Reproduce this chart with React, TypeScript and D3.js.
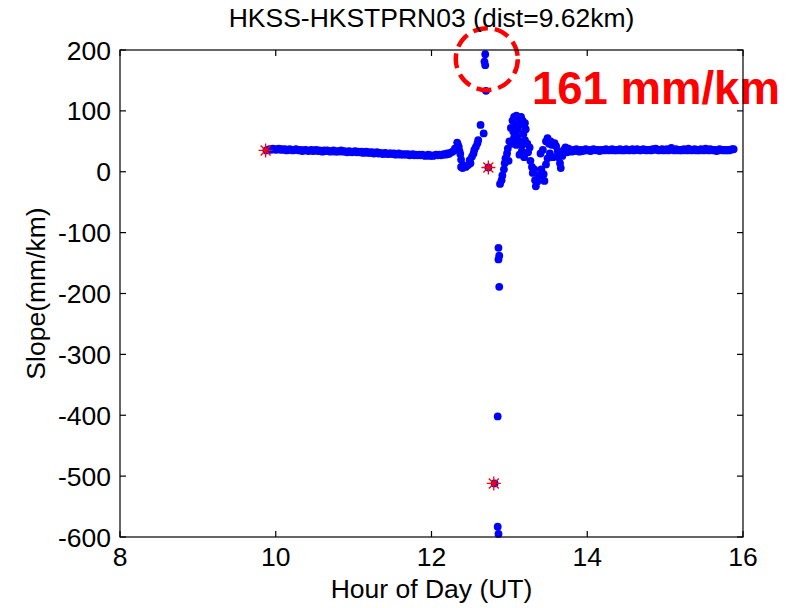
import React from 'react';
import * as d3 from 'd3';

// axis ticks
const xTicks = [8, 10, 12, 14, 16];
const yTicks = [200, 100, 0, -100, -200, -300, -400, -500, -600];

// steady band, sampled every 0.02 h
const step = 0.02;
const leftStart = 9.88;
const leftBand = [
  35, 36, 37, 36, 38, 37, 36, 37, 38, 36,
  37, 36, 37, 35, 36, 37, 36, 35, 36, 37,
  36, 35, 36, 34, 35, 36, 35, 34, 35, 36,
  34, 35, 36, 34, 35, 34, 33, 35, 34, 35,
  34, 33, 34, 35, 33, 34, 33, 34, 35, 33,
  34, 33, 32, 34, 33, 32, 33, 34, 32, 33,
  32, 33, 31, 32, 33, 31, 32, 31, 32, 30,
  31, 32, 30, 31, 30, 29, 31, 30, 29, 30,
  30, 29, 30, 28, 29, 30, 28, 29, 28, 29,
  28, 29, 27, 28, 29, 27, 28, 27, 28, 27,
  28, 27, 26, 27, 28, 26, 27, 26, 27, 28,
  27, 28, 27, 28, 29, 28, 30, 29,
];
const rightStart = 13.8;
const rightBand = [
  33, 36, 34, 37, 35, 33, 36, 34, 35, 37,
  35, 36, 34, 35, 37, 36, 35, 36, 34, 36,
  36, 35, 37, 36, 35, 36, 37, 35, 36, 35,
  36, 37, 35, 36, 35, 37, 36, 35, 36, 37,
  35, 36, 37, 36, 35, 36, 37, 36, 35, 36,
  36, 35, 37, 36, 38, 36, 35, 36, 37, 35,
  36, 37, 35, 36, 39, 36, 35, 37, 36, 35,
  36, 35, 37, 36, 35, 38, 36, 35, 36, 37,
  35, 36, 35, 37, 36, 35, 38, 36, 35, 37,
  36, 35, 36, 34, 35, 37, 36, 35, 36, 35,
  36, 35, 36, 37, 37,
];

// disturbed period [hour, slope]
const burst: [number, number][] = [
  // before the jump
  [12.24, 31], [12.27, 33], [12.3, 38], [12.33, 48], [12.34, 44], [12.35, 41],
  [12.36, 34], [12.37, 29], [12.38, 20], [12.38, 8], [12.4, 6], [12.41, 11],
  [12.44, 8], [12.47, 11], [12.49, 19], [12.5, 14], [12.52, 25], [12.54, 30],
  [12.55, 36], [12.57, 41], [12.59, 47], [12.6, 52], [12.63, 77], [12.67, 63],
  [12.73, 7],
  // rising limb
  [12.88, -20], [12.9, -14], [12.91, -6], [12.93, 4], [12.94, 14],
  [12.95, 22], [12.97, 30], [12.98, 38], [12.99, 18],
  // upper cluster
  [13.02, 72], [13.04, 84], [13.06, 90], [13.09, 92], [13.12, 88], [13.15, 90],
  [13.17, 84], [13.2, 80], [13.21, 70], [13.05, 66], [13.08, 76], [13.11, 70],
  [13.14, 78], [13.18, 62], [13.1, 58], [13.06, 56], [13.0, 50], [13.03, 46],
  [13.13, 50], [13.16, 44], [13.2, 52], [13.23, 46], [13.26, 40], [13.09, 44],
  // falling limb
  [13.16, 34], [13.13, 28], [13.19, 24], [13.24, 32], [13.27, 18], [13.29, 8],
  [13.3, -2], [13.32, 4], [13.33, -14], [13.34, -24], [13.36, -16],
  [13.38, -6], [13.41, 4], [13.44, -4], [13.45, -15], [13.47, 12], [13.49, 22],
  // second hump
  [13.47, 50], [13.49, 55], [13.51, 46], [13.53, 50], [13.55, 44],
  [13.58, 47], [13.6, 42], [13.62, 34], [13.63, 24], [13.65, 14],
  [13.66, 6], [13.68, 26], [13.7, 36], [13.72, 40], [13.74, 32], [13.76, 38],
  [13.78, 34], [13.4, 30], [13.43, 36], [13.52, 30], [13.56, 24],
];

// outliers
const spikes: [number, number][] = [
  [12.69, 193], [12.68, 181], [12.69, 175], [12.7, 133],
  [12.86, -125], [12.87, -138], [12.86, -144], [12.87, -189],
  [12.85, -402], [12.81, -512], [12.85, -583], [12.86, -595],
];

// red star markers
const stars: [number, number][] = [[9.87, 35], [12.73, 7], [12.8, -512]];

const W = 793;
const H = 608;
const margin = { top: 50, right: 50, bottom: 71, left: 120 };
const font = '"Liberation Sans", Arial, sans-serif';

const App: React.FC = () => {
  const svgRef = React.useRef<SVGSVGElement>(null);

  React.useEffect(() => {
    if (!svgRef.current) return;
    const svg = d3.select(svgRef.current);
    svg.selectAll('*').remove();

    const x = d3.scaleLinear().domain([8, 16]).range([margin.left, W - margin.right]);
    const y = d3.scaleLinear().domain([-600, 200]).range([H - margin.bottom, margin.top]);

    const points: [number, number][] = [
      ...leftBand.map((v, i) => [leftStart + i * step, v] as [number, number]),
      ...rightBand.map((v, i) => [rightStart + i * step, v] as [number, number]),
      ...burst,
      ...spikes,
    ];

    svg.append('rect').attr('width', W).attr('height', H).attr('fill', '#fff');

    // dots
    svg.append('g')
      .selectAll('circle')
      .data(points)
      .join('circle')
      .attr('cx', d => x(d[0]))
      .attr('cy', d => y(d[1]))
      .attr('r', 3.9)
      .attr('fill', '#0000ff');

    // stars
    const s = svg.append('g').attr('stroke', '#ff0000').attr('stroke-width', 1.3);
    stars.forEach(([hx, v]) => {
      const cx = x(hx), cy = y(v);
      s.append('path').attr('d',
        `M${cx - 7},${cy}H${cx + 7}M${cx},${cy - 7}V${cy + 7}` +
        `M${cx - 5},${cy - 5}L${cx + 5},${cy + 5}M${cx - 5},${cy + 5}L${cx + 5},${cy - 5}`);
    });

    // annotation
    svg.append('circle')
      .attr('cx', x(12.71))
      .attr('cy', y(185))
      .attr('r', 31)
      .attr('fill', 'none')
      .attr('stroke', '#ff0000')
      .attr('stroke-width', 4.5)
      .attr('stroke-dasharray', '15 7');

    svg.append('text')
      .attr('x', 532)
      .attr('y', 104)
      .attr('fill', '#ff0000')
      .style('font-family', font)
      .style('font-size', '45.5px')
      .style('font-weight', 'bold')
      .text('161 mm/km');

    // axes box
    const [x0, x1] = x.range();
    const [y0, y1] = y.range();
    const ax = svg.append('g').attr('stroke', '#000').attr('stroke-width', 1.2);
    ax.append('rect')
      .attr('x', x0).attr('y', y1)
      .attr('width', x1 - x0).attr('height', y0 - y1)
      .attr('fill', 'none');
    const tl = 6;
    xTicks.forEach(t => {
      ax.append('line').attr('x1', x(t)).attr('x2', x(t)).attr('y1', y0).attr('y2', y0 - tl);
      ax.append('line').attr('x1', x(t)).attr('x2', x(t)).attr('y1', y1).attr('y2', y1 + tl);
    });
    yTicks.forEach(t => {
      ax.append('line').attr('x1', x0).attr('x2', x0 + tl).attr('y1', y(t)).attr('y2', y(t));
      ax.append('line').attr('x1', x1).attr('x2', x1 - tl).attr('y1', y(t)).attr('y2', y(t));
    });

    const txt = svg.append('g')
      .style('font-family', font)
      .style('font-size', '26.5px')
      .attr('fill', '#000');

    xTicks.forEach(t => {
      txt.append('text')
        .attr('x', x(t)).attr('y', y0 + 29)
        .attr('text-anchor', 'middle')
        .text(t);
    });
    yTicks.forEach(t => {
      txt.append('text')
        .attr('x', x0 - 9).attr('y', y(t) + 9.5)
        .attr('text-anchor', 'end')
        .text(t);
    });

    txt.append('text')
      .attr('x', (x0 + x1) / 2).attr('y', 27)
      .attr('text-anchor', 'middle')
      .text('HKSS-HKSTPRN03 (dist=9.62km)');

    txt.append('text')
      .attr('x', (x0 + x1) / 2).attr('y', 598)
      .attr('text-anchor', 'middle')
      .text('Hour of Day (UT)');

    txt.append('text')
      .attr('transform', `translate(45,${(y0 + y1) / 2}) rotate(-90)`)
      .attr('text-anchor', 'middle')
      .text('Slope(mm/km)');
  }, []);

  return (
    <svg
      ref={svgRef}
      width={W}
      height={H}
      viewBox={`0 0 ${W} ${H}`}
      style={{ position: 'absolute', left: 0, top: 0, display: 'block' }}
    />
  );
};

export default App;
